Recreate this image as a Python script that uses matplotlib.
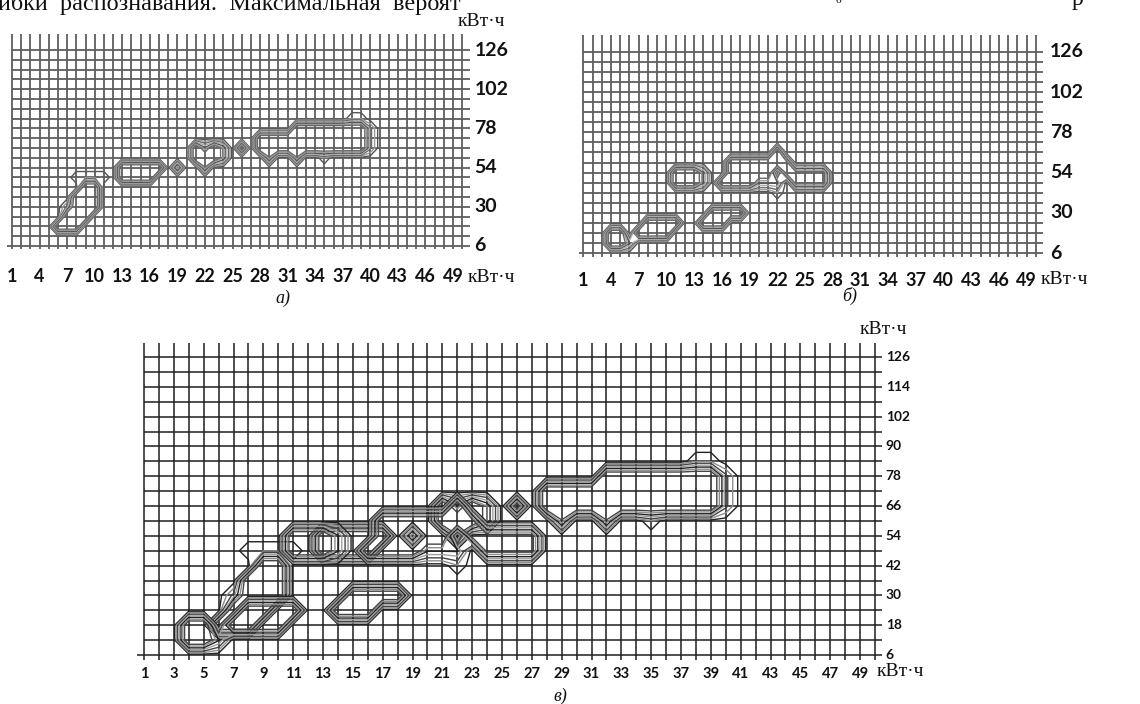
"""Три карты изолиний (а, б, в) на сетке кВт·ч × кВт·ч."""

import matplotlib.pyplot as plt
import numpy as np

W, H = 1140, 704

# узлы сетки данных: ось X — 0..51 кВт·ч, ось Y — 0..138 кВт·ч с шагом 6
X_NODES = np.arange(0, 52)
Y_NODES = np.arange(0, 144, 6)

# области повышенной вероятности: (x от, x до, y от, y до, уровень)
BLOBS_A = [
    (6, 8, 18, 18, 1.0),
    (7, 9, 24, 24, 1.0),
    (8, 10, 30, 36, 1.0),
    (9, 10, 42, 42, 1.0),
    (8, 11, 48, 48, 0.15),
    (7, 7, 30, 30, 0.3),
    (13, 16, 48, 48, 1.0),
    (13, 17, 54, 54, 1.0),
    (19, 19, 54, 54, 0.7),
    (21, 23, 60, 66, 1.0),
    (24, 24, 60, 66, 0.6),
    (22, 22, 66, 66, 0.5),
    (22, 22, 54, 54, 0.7),
    (26, 26, 66, 66, 0.9),
    (28, 31, 66, 72, 1.0),
    (32, 39, 66, 78, 1.0),
    (29, 29, 60, 60, 0.7),
    (32, 32, 60, 60, 0.7),
    (35, 35, 60, 60, 0.15),
    (38, 39, 84, 84, 0.15),
    (40, 40, 66, 78, 0.3),
]

BLOBS_B = [
    (4, 5, 12, 18, 1.0),
    (6, 6, 12, 12, 0.5),
    (7, 10, 18, 18, 1.0),
    (8, 11, 24, 24, 1.0),
    (14, 16, 24, 24, 1.0),
    (15, 18, 30, 30, 1.0),
    (11, 13, 48, 54, 1.0),
    (14, 14, 48, 54, 0.5),
    (16, 19, 48, 48, 1.0),
    (17, 21, 54, 60, 1.0),
    (20, 22, 48, 48, 0.5),
    (22, 22, 60, 66, 1.0),
    (23, 23, 54, 60, 0.8),
    (24, 27, 48, 54, 0.8),
    (22, 22, 42, 42, 0.15),
]

LEVELS = [0.06, 0.16, 0.26, 0.37, 0.48, 0.6, 0.72]

X_TICKS_AB = [1, 4, 7, 10, 13, 16, 19, 22, 25, 28, 31, 34, 37, 40, 43, 46, 49]
Y_TICKS_AB = [6, 30, 54, 78, 102, 126]
X_TICKS_C = list(range(1, 50, 2))
Y_TICKS_C = [6, 18, 30, 42, 54, 66, 78, 90, 102, 114, 126]

UNIT = "кВт·ч"


def make_field(blobs):
    z = np.zeros((len(Y_NODES), len(X_NODES)))
    for x0, x1, y0, y1, v in blobs:
        m = np.outer((Y_NODES >= y0) & (Y_NODES <= y1), (X_NODES >= x0) & (X_NODES <= x1))
        z[m] = v
    return z


def panel_axes(fig, x1, x49, y6, y126, xlim=(0, 52), ylim=(0, 140)):
    """Axes placed so that x=1/49 and y=6/126 land on the given pixels."""
    sx = (x49 - x1) / 48.0
    sy = (y6 - y126) / 120.0
    left = x1 + (xlim[0] - 1) * sx
    right = x1 + (xlim[1] - 1) * sx
    top = y6 - (ylim[1] - 6) * sy
    bottom = y6 - (ylim[0] - 6) * sy
    ax = fig.add_axes([left / W, 1 - bottom / H, (right - left) / W, (bottom - top) / H])
    ax.set_xlim(*xlim)
    ax.set_ylim(*ylim)
    ax.axis("off")
    return ax


def draw_panel(ax, fields, x_ticks, y_ticks, st):
    ax.vlines(np.arange(1, 51), 4, st["v_top"], colors=st["grid"], linewidth=st["lw"])
    ax.hlines(np.arange(12, 127, 6), 1, st["h_right"], colors=st["grid"], linewidth=st["lw"])
    ax.hlines(6, 0.5, st["h_right"], colors=st["grid"], linewidth=st["lw"])
    cols = [st["contour"][i % len(st["contour"])] for i in range(len(LEVELS))]
    # panel в overlays the maps of а and б, so every field gets its own set of contours
    for field in fields:
        ax.contour(X_NODES, Y_NODES, field, levels=LEVELS, colors=cols, linewidths=1.0)
    for v in x_ticks:
        ax.annotate(str(v), (v, 6), xytext=(0, -st["xlab_dy"] * 0.72), textcoords="offset points",
                    ha="center", va="center", fontsize=st["fs_x"], fontweight="bold",
                    family="Lato", color="#111111")
    for v in y_ticks:
        ax.annotate(str(v), (st["h_right"], v), xytext=(st["ylab_dx"] * 0.72, 0),
                    textcoords="offset points", ha="left", va="center", fontsize=st["fs_y"],
                    fontweight="bold", family="Lato", color="#111111")


def ftext(fig, x, y, s, **kw):
    fig.text(x / W, 1 - y / H, s, **kw)


fig = plt.figure(figsize=(W / 100, H / 100), dpi=100)

style_ab = dict(grid="#5e5e5e", lw=1.3, contour=["#555555", "#999999", "#6a6a6a", "#adadad"],
                v_top=136, xlab_dy=31, ylab_dx=5, fs_x=13, fs_y=14)
field_a = make_field(BLOBS_A)
field_b = make_field(BLOBS_B)

ax_a = panel_axes(fig, 12, 453, 246, 50)
draw_panel(ax_a, [field_a], X_TICKS_AB, Y_TICKS_AB, dict(style_ab, h_right=50.8))

ax_b = panel_axes(fig, 583.3, 1026.7, 253.3, 51.7)
draw_panel(ax_b, [field_b], X_TICKS_AB, Y_TICKS_AB, dict(style_ab, h_right=50.75, xlab_dy=27, ylab_dx=7))

style_c = dict(grid="#1e1e1e", lw=1.1, contour=["#222222", "#8c8c8c", "#444444", "#a0a0a0"],
               v_top=131.5, h_right=50.45, xlab_dy=19, ylab_dx=4, fs_x=10.6, fs_y=9.9)
ax_c = panel_axes(fig, 144, 860, 655, 357)
draw_panel(ax_c, [field_a, field_b], X_TICKS_C, Y_TICKS_C, style_c)

serif = dict(family="Liberation Serif", color="#111111")
ftext(fig, 481, 22, UNIT, ha="center", va="center", fontsize=14, **serif)
ftext(fig, 491, 277, UNIT, ha="center", va="center", fontsize=14, **serif)
ftext(fig, 1064, 280, UNIT, ha="center", va="center", fontsize=14, **serif)
ftext(fig, 883, 330, UNIT, ha="center", va="center", fontsize=14, **serif)
ftext(fig, 900, 672, UNIT, ha="center", va="center", fontsize=14, **serif)

ftext(fig, 283, 298, "а)", ha="center", va="center", fontsize=13, style="italic", **serif)
ftext(fig, 850, 296, "б)", ha="center", va="center", fontsize=13, style="italic", **serif)
ftext(fig, 560, 696, "в)", ha="center", va="center", fontsize=13, style="italic", **serif)

# обрезанная строка текста страницы над рисунком
ftext(fig, -2, 10, "ибки  распознавания.  Максимальная  вероят", ha="left", va="baseline",
      fontsize=17.5, **serif)
ftext(fig, 838, 3, "б", ha="center", va="baseline", fontsize=8, **serif)
ftext(fig, 1078, 5, "р", ha="center", va="baseline", fontsize=17, **serif)

fig.savefig("out.png", dpi=100)
